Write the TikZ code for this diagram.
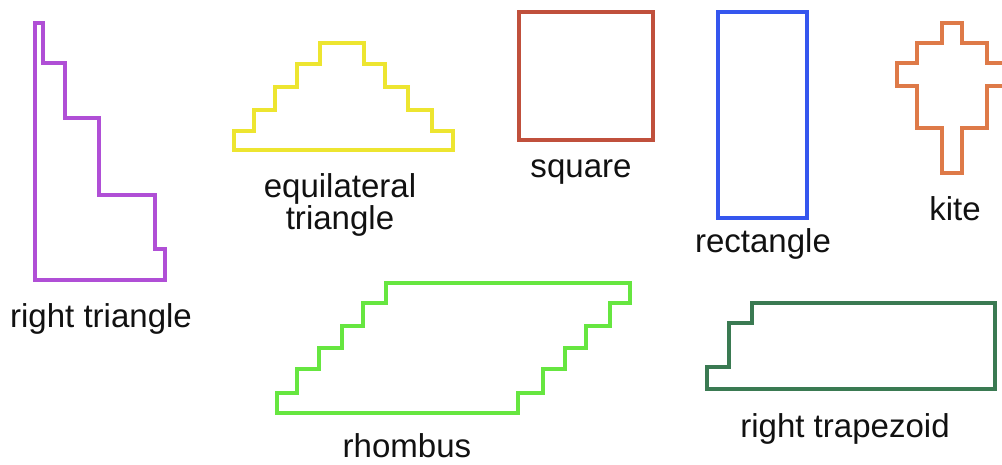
\documentclass[tikz,border=0pt]{standalone}
\usepackage{fontspec}
\setmainfont{Liberation Sans}
\usepackage{xcolor}
\usepackage{tikz}
\definecolor{cViolet}{HTML}{B04FD6}
\definecolor{cYellow}{HTML}{EDE530}
\definecolor{cRust}{HTML}{C0503C}
\definecolor{cBlue}{HTML}{3556EE}
\definecolor{cOrange}{HTML}{DE7A48}
\definecolor{cLime}{HTML}{66E640}
\definecolor{cForest}{HTML}{3A7A52}
\definecolor{nInk}{HTML}{111111}
\tikzset{
  outline/.style={line width=2.6pt, line join=miter},
  tag/.style={font=\fontsize{23.5}{21.5}\selectfont, text=nInk, inner sep=0pt, align=center},
}

\begin{document}
\begin{tikzpicture}[x=0.025cm, y=-0.025cm]
  \useasboundingbox (0,0) rectangle (1002,465);
  \clip (0,0) rectangle (1002,465);
  % right triangle
  \draw[outline, cViolet] (35,23) -- (43,23) -- (43,63) -- (65,63) -- (65,118) -- (99,118)
    -- (99,195) -- (155,195) -- (155,249) -- (165,249) -- (165,280) -- (35,280) -- cycle;
  \node[tag, anchor=base] (rtri) at (101,328) {right triangle};
  % equilateral triangle
  \draw[outline, cYellow] (234,150) -- (234,131) -- (254,131) -- (254,110) -- (275,110)
    -- (275,87) -- (297,87) -- (297,64) -- (320,64) -- (320,43) -- (364,43) -- (364,64)
    -- (385,64) -- (385,87) -- (408,87) -- (408,110) -- (432,110) -- (432,131) -- (453,131)
    -- (453,150) -- cycle;
  \node[tag] (etri) at (340,205) {equilateral\\triangle};
  % square
  \draw[outline, cRust] (519,12) rectangle (653,140);
  \node[tag, anchor=base] (sq) at (581,178) {square};
  % rectangle
  \draw[outline, cBlue] (718,12) rectangle (807,218);
  \node[tag, anchor=base] (rect) at (763,253) {rectangle};
  % kite
  \draw[outline, cOrange] (942,23) -- (962,23) -- (962,43) -- (987,43) -- (987,63) -- (1007,63)
    -- (1007,86) -- (987,86) -- (987,128) -- (962,128) -- (962,173) -- (942,173) -- (942,128)
    -- (917,128) -- (917,86) -- (897,86) -- (897,63) -- (917,63) -- (917,43) -- (942,43) -- cycle;
  \node[tag, anchor=base] (kite) at (955,221) {kite};
  % rhombus
  \draw[outline, cLime] (277,413) -- (277,393) -- (297,393) -- (297,369) -- (319,369) -- (319,348)
    -- (342,348) -- (342,326) -- (363,326) -- (363,303) -- (386,303) -- (386,283) -- (630,283)
    -- (630,303) -- (610,303) -- (610,326) -- (586,326) -- (586,348) -- (565,348) -- (565,369)
    -- (543,369) -- (543,393) -- (518,393) -- (518,413) -- cycle;
  \node[tag, anchor=base] (rhom) at (407,458) {rhombus};
  % right trapezoid
  \draw[outline, cForest] (707,389) -- (707,367) -- (729,367) -- (729,323) -- (752,323)
    -- (752,303) -- (995,303) -- (995,389) -- cycle;
  \node[tag, anchor=base] (trap) at (845,438) {right trapezoid};
\end{tikzpicture}
\end{document}
